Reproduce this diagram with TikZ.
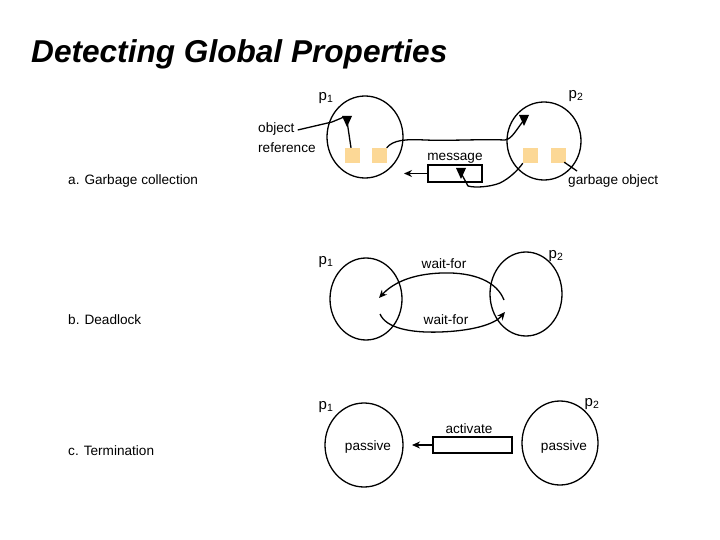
\documentclass[tikz,border=0pt]{standalone}
\usepackage{fontspec}
\setmainfont{Liberation Sans}
\usetikzlibrary{shapes.geometric,arrows.meta}
\definecolor{objfill}{RGB}{252,216,150}
\tikzset{
  lbl/.style={font=\fontsize{13.6}{16}\selectfont, inner sep=0pt},
  plbl/.style={font=\fontsize{15}{17}\selectfont, inner sep=0pt},
  proc/.style={draw, ellipse, line width=1.3pt, inner sep=0pt},
  obj/.style={fill=objfill, minimum width=15pt, minimum height=15pt, inner sep=0pt},
  msgbox/.style={draw, line width=1.3pt, inner sep=0pt},
  conn/.style={line width=1.3pt},
  arr/.style={line width=1.3pt, -{Stealth[length=8pt,width=7pt]}},
  tri/.style={fill=black}
}
\begin{document}
\begin{tikzpicture}[x=1pt,y=-1pt]
\useasboundingbox (0,0) rectangle (720,540);
\fill[white] (0,0) rectangle (720,540);
% title
\node[anchor=base west, inner sep=0pt, font=\fontsize{31.6}{36}\selectfont\bfseries\itshape] (title) at (31,63) {Detecting Global Properties};

% ---------- a. Garbage collection ----------
\node[proc, minimum width=76pt, minimum height=82pt] (ap1) at (365,137) {};
\node[proc, minimum width=74pt, minimum height=78pt] (ap2) at (544,141) {};
\node[plbl] (ap1l) at (326,98) {p\textsubscript{1}};
\node[plbl] (ap2l) at (576,96) {p\textsubscript{2}};
\node[obj] (s1) at (352,155.5) {};
\node[obj] (s2) at (379,155.5) {};
\node[obj] (s3) at (530.5,155.5) {};
\node[obj] (s4) at (558.5,155.5) {};
\node[lbl, anchor=west] (objl) at (258,129) {object};
\node[lbl, anchor=west] (refl) at (258,148) {reference};
\node[msgbox, minimum width=54pt, minimum height=17pt] (msg) at (455,173.5) {};
\node[lbl] (msgl) at (455,158) {message};
\node[lbl, anchor=west] (garbl) at (568,181) {garbage object};
\node[lbl, anchor=west] (secta) at (68,181) {a. Garbage collection};

% object reference
\coordinate (t1) at (347,121);
\coordinate (t2) at (524,120);
\coordinate (t3) at (461,173);
\draw[conn] (objl.east) ++(3,1) -- (332,122) -- (344,117);
\draw[conn] (s1.north) ++(-1,0) -- (t1);
\fill[tri] (t1) ++(-5,-5) -- ++(10,0) -- ++(-5,11) -- cycle;
% reference from s2 to object in p2
\draw[conn] (s2.north east) .. controls (393,140) and (405,139) .. (425,140)
  .. controls (450,141) and (480,139) .. (505,140)
  .. controls (512,139) and (516,130) .. (t2);
\fill[tri] (t2) ++(-5,-5) -- ++(10,0) -- ++(-5,11) -- cycle;
% reference in message
\draw[conn] (s3.south west) .. controls (518,170) and (510,178) .. (500,183)
  .. controls (490,187) and (475,188) .. (468,186) -- (t3);
\fill[tri] (t3) ++(-5,-5) -- ++(10,0) -- ++(-5,11) -- cycle;
\coordinate (msgend) at (404,173.5);
\draw[arr] (msg.west) -- (msgend);
\draw[conn] (s4.south east) ++(-2,-1) -- (577,171);

% ---------- b. Deadlock ----------
\node[proc, minimum width=72pt, minimum height=82pt] (bp1) at (366,299) {};
\node[proc, minimum width=72pt, minimum height=84pt] (bp2) at (526,294) {};
\node[plbl] (bp1l) at (326,262) {p\textsubscript{1}};
\node[plbl] (bp2l) at (556,256) {p\textsubscript{2}};
\node[lbl] (w1) at (444,264) {wait-for};
\node[lbl] (w2) at (446,320) {wait-for};
\node[lbl, anchor=west] (sectb) at (68,320) {b. Deadlock};
\coordinate (b1s) at (504,300);
\coordinate (b1e) at (379,298);
\coordinate (b2s) at (380,314);
\coordinate (b2e) at (505,312);
\draw[arr] (b1s) .. controls (497,282) and (475,272) .. (442,273)
  .. controls (410,274) and (392,284) .. (b1e);
\draw[arr] (b2s) .. controls (386,328) and (410,333) .. (440,332)
  .. controls (470,331) and (494,325) .. (b2e);

% ---------- c. Termination ----------
\node[proc, minimum width=78pt, minimum height=84pt] (cp1) at (364,445) {};
\node[proc, minimum width=76pt, minimum height=84pt] (cp2) at (560,443) {};
\node[plbl] (cp1l) at (326,407) {p\textsubscript{1}};
\node[plbl] (cp2l) at (592,404) {p\textsubscript{2}};
\node[lbl] (pas1) at (368,447) {passive};
\node[lbl] (pas2) at (564,447) {passive};
\node[msgbox, minimum width=79pt, minimum height=16pt] (act) at (472.5,445) {};
\node[lbl] (actl) at (469,429) {activate};
\node[lbl, anchor=west] (sectc) at (68,451) {c. Termination};
\coordinate (actend) at (412,445);
\draw[arr] (act.west) -- (actend);
\end{tikzpicture}
\end{document}
